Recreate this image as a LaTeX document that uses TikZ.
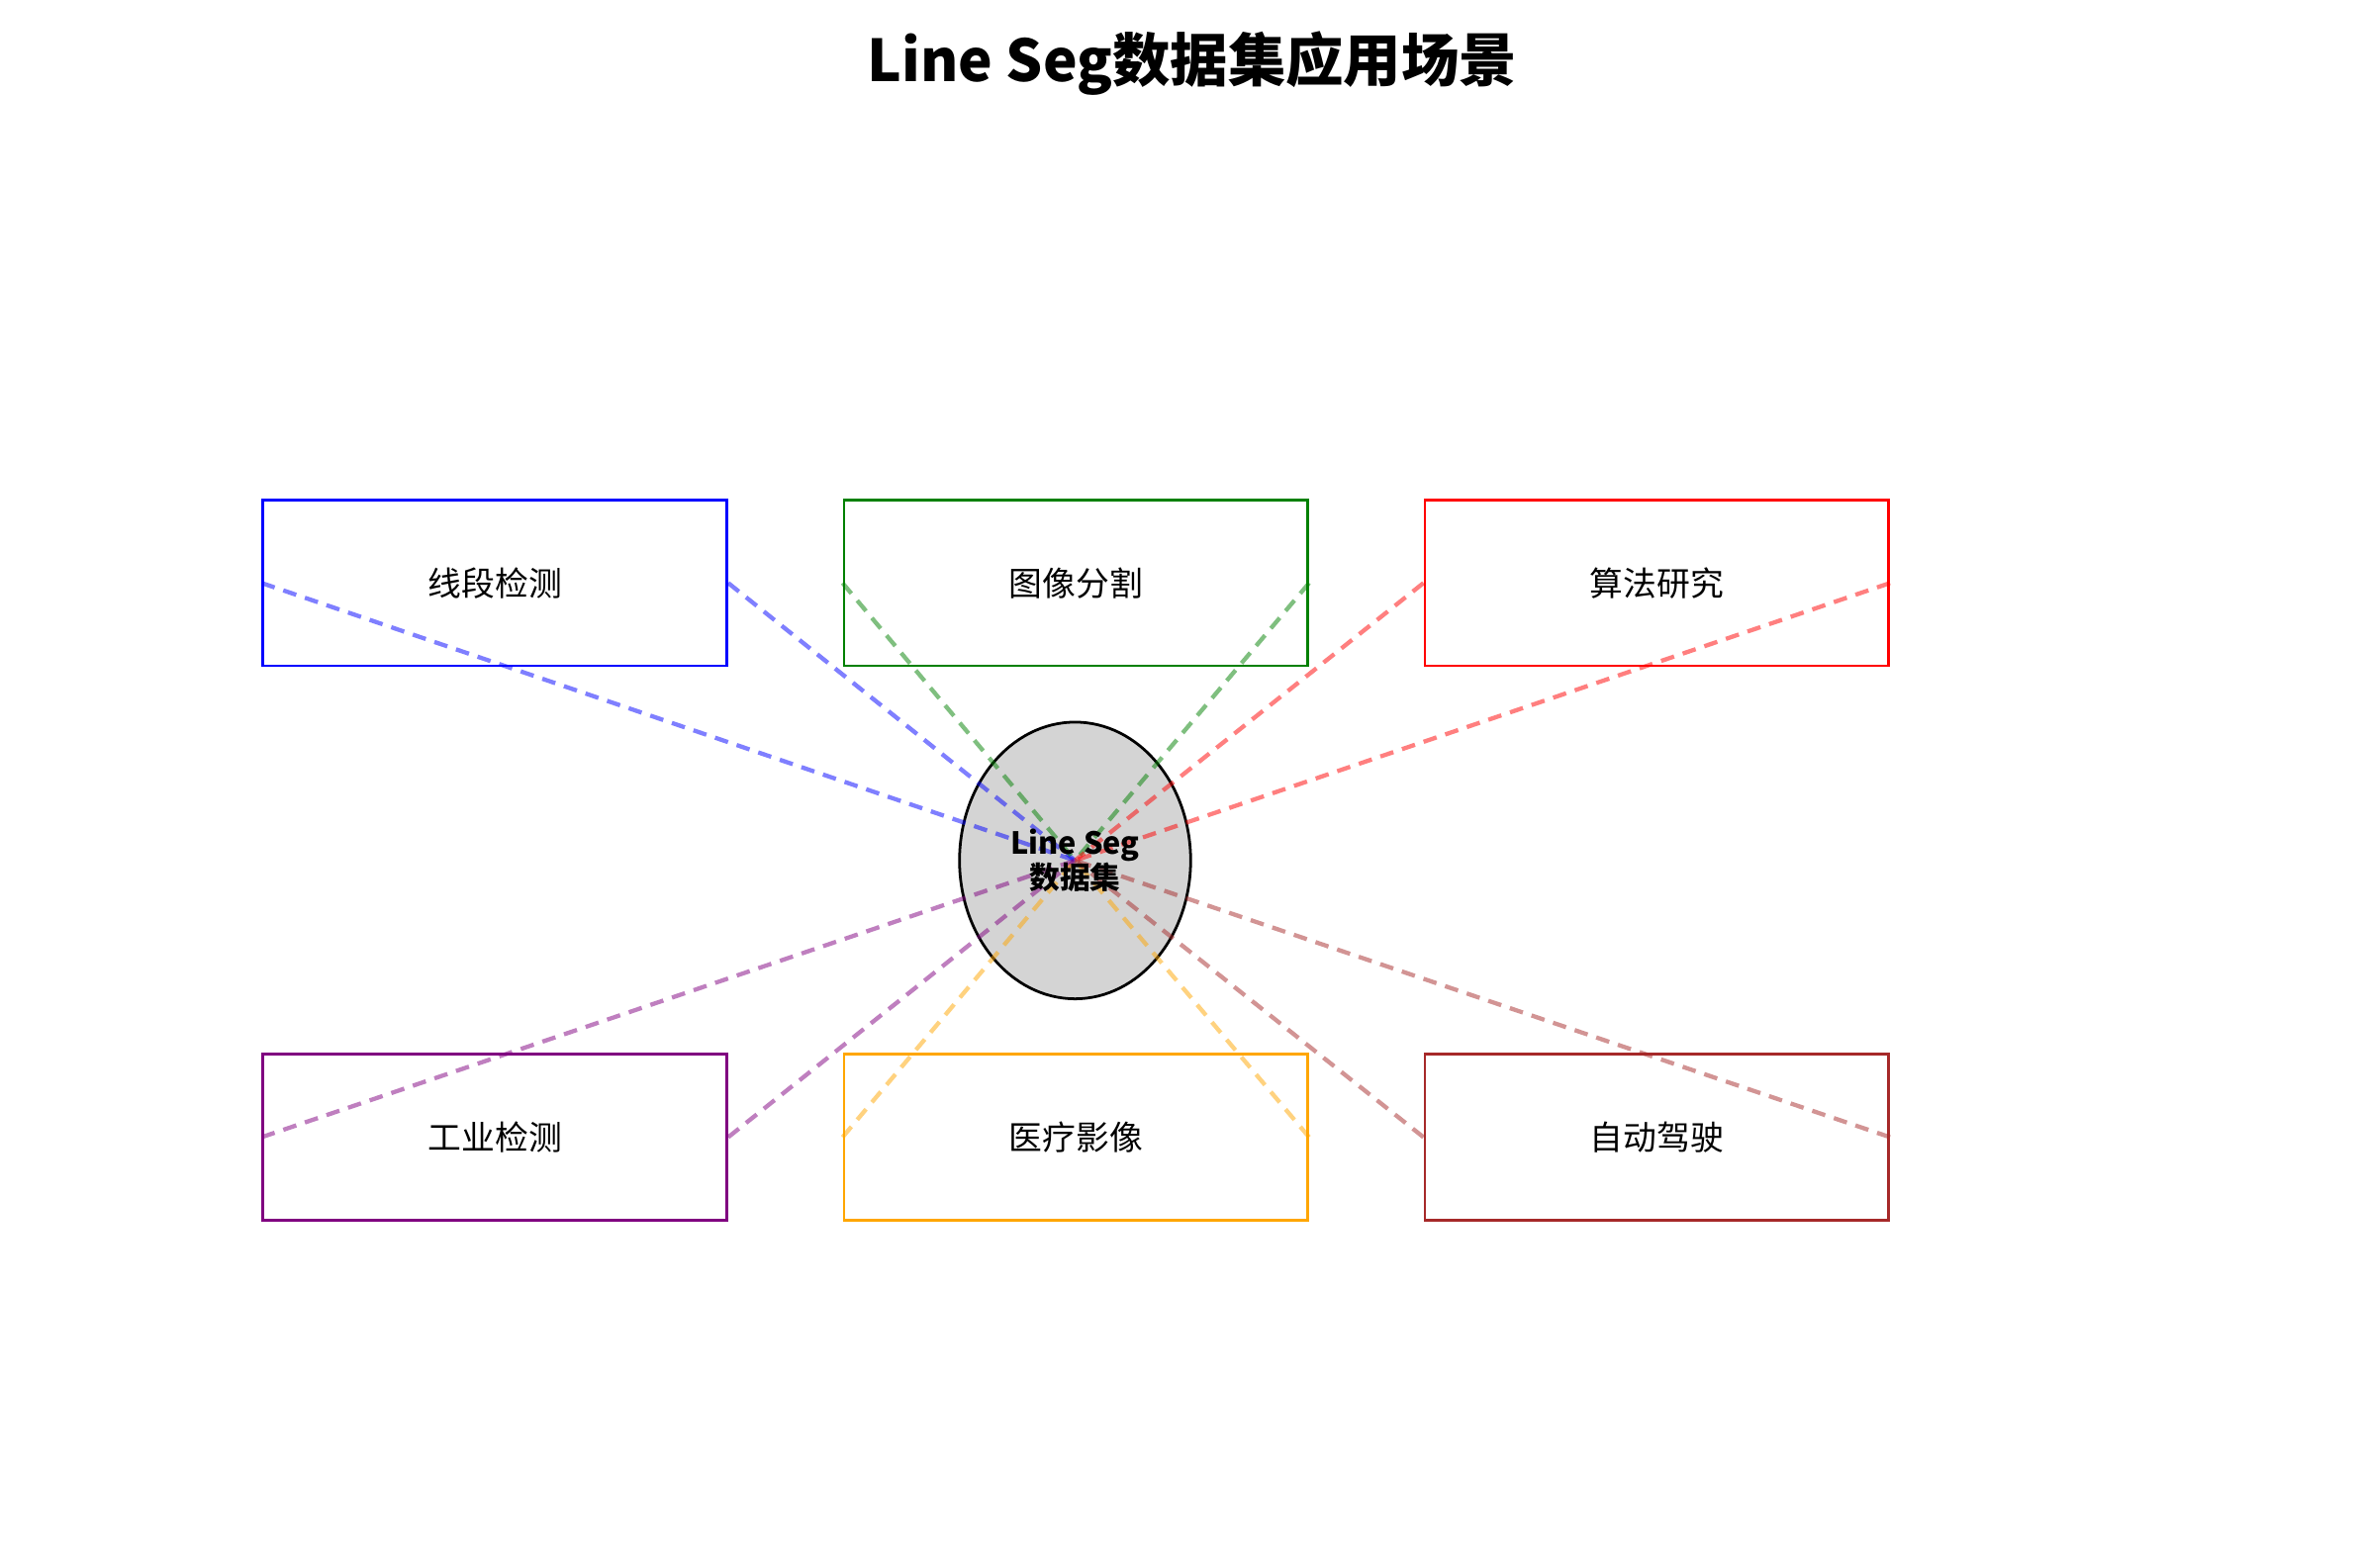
\documentclass[tikz,border=0pt]{standalone}
\usepackage{fontspec}
\usetikzlibrary{shapes.geometric}
\setmainfont{Noto Sans CJK SC}
\definecolor{cbrown}{rgb}{0.65,0.16,0.16}
\definecolor{cpurple}{rgb}{0.5,0,0.5}
\definecolor{cgreen}{rgb}{0,0.5,0}
\definecolor{corange}{rgb}{1,0.65,0}
\begin{document}
\begin{tikzpicture}[x=1pt,y=-1pt,
 box/.style={draw,line width=1.8pt,minimum width=305pt,minimum height=109pt,font=\fontsize{22}{26}\selectfont},
 conn/.style={line width=2.8pt,dash pattern=on 9pt off 6pt,opacity=0.5}]
\useasboundingbox (0,0) rectangle (1552,1031);
\node[font=\bfseries\fontsize{38}{44}\selectfont] (t) at (784,42) {Line Seg数据集应用场景};
\node[draw,fill=black!17,line width=1.8pt,ellipse,minimum width=152pt,minimum height=182pt,inner sep=0] (c) at (707,566) {};
\node[box,draw=blue] (b1) at (325.5,383.5) {线段检测};
\node[box,draw=cgreen] (b2) at (707.5,383.5) {图像分割};
\node[box,draw=red] (b3) at (1089.5,383.5) {算法研究};
\node[box,draw=cpurple] (b4) at (325.5,748) {工业检测};
\node[box,draw=corange] (b5) at (707.5,748) {医疗影像};
\node[box,draw=cbrown] (b6) at (1089.5,748) {自动驾驶};
\foreach \b/\col in {b1/blue,b2/cgreen,b3/red,b4/cpurple,b5/corange,b6/cbrown}{
 \draw[conn,draw=\col] (\b.west) -- (c.center);
 \draw[conn,draw=\col] (\b.east) -- (c.center);
}
\node[font=\bfseries\fontsize{20}{20}\selectfont,align=center] (ct) at (707,566) {Line Seg\\数据集};
\end{tikzpicture}
\end{document}
